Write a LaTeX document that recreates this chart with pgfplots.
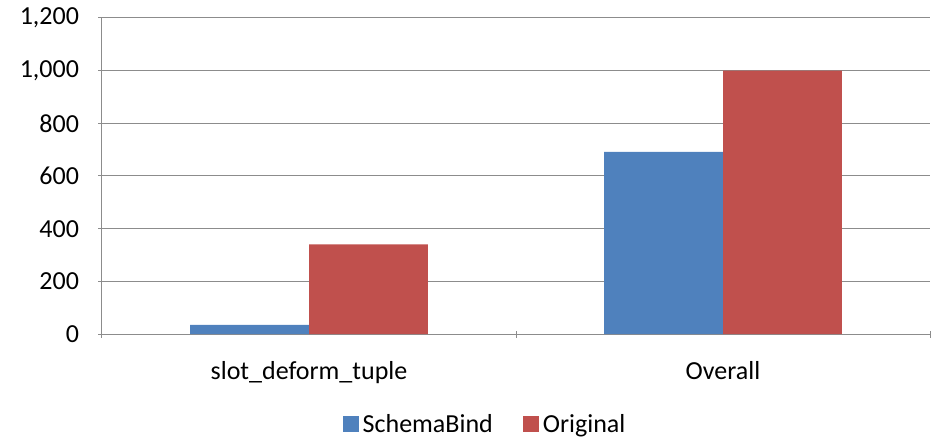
\documentclass[border=0pt]{standalone}
\usepackage{pgfplots}
\pgfplotsset{compat=1.18}
\usepackage{fontspec}
\setmainfont{Carlito}
\definecolor{sbblue}{HTML}{4F81BD}
\definecolor{orred}{HTML}{C0504D}
\definecolor{gridgray}{HTML}{8C8C8C}
\begin{document}
\begin{tikzpicture}
\begin{axis}[
  at={(0pt,0pt)}, anchor=south west,
  scale only axis, width=828pt, height=316pt,
  ybar=0pt, bar width=0.287,
  xmin=-0.5, xmax=1.5, ymin=0, ymax=1200,
  ytick={0,200,...,1200},
  xtick={-0.5,0.5,1.5}, x tick label as interval,
  xticklabels={slot\_deform\_tuple,Overall},
  tick align=outside, major tick length=7pt,
  tick style={draw=gridgray, line width=1pt},
  axis x line=bottom, axis y line=left,
  axis line style={draw=gridgray, line width=1pt, -},
  ymajorgrids, xmajorgrids=false, grid style={draw=gridgray, line width=1pt},
  /pgf/number format/assume math mode=true,
  /pgf/number format/1000 sep={,},
  ticklabel style={font=\fontsize{26}{30}\selectfont},
  yticklabel style={xshift=-16pt},
  xticklabel style={yshift=-20pt},
  legend style={at={(0.4626,-0.285)}, anchor=center, draw=none, font=\fontsize{26}{30}\selectfont, legend columns=2, /tikz/every even column/.append style={column sep=28pt}, /tikz/every odd column/.append style={column sep=2pt}},
  legend image code/.code={\fill[#1] (0pt,-8pt) rectangle (16pt,8pt);},
]
\addplot[fill=sbblue, draw=none] coordinates {(0,35) (1,692)};
\addplot[fill=orred, draw=none] coordinates {(0,340) (1,1000)};
\legend{SchemaBind,Original}
\end{axis}
\path[use as bounding box] (-102pt,-103pt) rectangle (834pt,334pt);
\end{tikzpicture}
\end{document}
